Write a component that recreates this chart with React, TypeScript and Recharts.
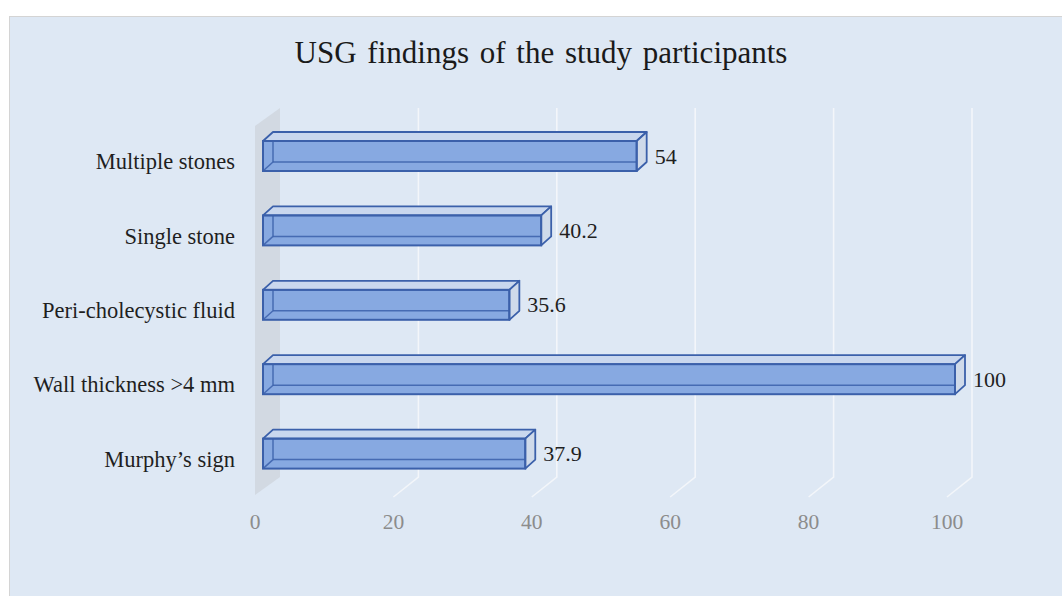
import React from 'react';
import { BarChart, Bar, XAxis, YAxis, CartesianGrid } from 'recharts';

const categories = [
  'Multiple stones',
  'Single stone',
  'Peri-cholecystic fluid',
  'Wall thickness >4 mm',
  'Murphy’s sign',
];
const values = [54, 40.2, 35.6, 100, 37.9];
const xTicks = [0, 20, 40, 60, 80, 100];
const title = 'USG findings of the study participants';

const data = categories.map((c, i) => ({ name: c, value: values[i] }));

const DX = 10;
const DY = 9;
const FONT = '"Liberation Serif", "Times New Roman", serif';
const EDGE = '#3b60aa';

function Box3D(props: any) {
  const { x, y, width, height, payload } = props;
  const w = width;
  const h = height;
  const top = `${x},${y} ${x + DX},${y - DY} ${x + w + DX},${y - DY} ${x + w},${y}`;
  const side = `${x + w},${y} ${x + w + DX},${y - DY} ${x + w + DX},${y + h - DY} ${x + w},${y + h}`;
  return (
    <g>
      <rect x={x} y={y} width={w} height={h} fill="#87a9e1" />
      <line x1={x + DX} y1={y - DY} x2={x + DX} y2={y + h - DY} stroke={EDGE} strokeWidth={1.5} strokeOpacity={0.85} />
      <line x1={x + DX} y1={y + h - DY} x2={x + w + DX} y2={y + h - DY} stroke={EDGE} strokeWidth={1.5} strokeOpacity={0.85} />
      <line x1={x} y1={y + h} x2={x + DX} y2={y + h - DY} stroke={EDGE} strokeWidth={1.5} strokeOpacity={0.85} />
      <polygon points={top} fill="#c9d7ee" stroke={EDGE} strokeWidth={1.8} strokeLinejoin="round" />
      <polygon points={side} fill="#cfdaea" stroke={EDGE} strokeWidth={1.8} strokeLinejoin="round" />
      <rect x={x} y={y} width={w} height={h} fill="none" stroke={EDGE} strokeWidth={2} />
      <text
        x={x + w + DX + 8}
        y={y + h / 2}
        dominantBaseline="central"
        fontSize={22}
        fontFamily={FONT}
        fill="#1f1f1f"
      >
        {payload.value}
      </text>
    </g>
  );
}

const renderGrid = (p: any) => {
  const { x1, y1, y2, index, key } = p;
  const bx = x1 + 17;
  const fx = x1 - 8;
  if (index === 0) {
    return (
      <polygon
        key={key}
        points={`${fx},${y1 + 7} ${bx},${y1 - 11} ${bx},${y2 - 14} ${fx},${y2 + 4}`}
        fill="#d2d9e2"
      />
    );
  }
  return (
    <polyline
      key={key}
      points={`${bx},${y1 - 11} ${bx},${y2 - 14} ${fx},${y2 + 6}`}
      fill="none"
      stroke="#f3f6fa"
      strokeWidth={1.6}
    />
  );
};

const YTick = (props: any) => {
  const { x, y, payload } = props;
  return (
    <text x={x} y={y + 13} textAnchor="end" fontSize={22.5} fontFamily={FONT} fill="#1f1f1f">
      {payload.value}
    </text>
  );
};

const XTick = (props: any) => {
  const { x, y, payload } = props;
  return (
    <text x={x - 8} y={y} textAnchor="middle" fontSize={21.5} fontFamily={FONT} fill="#8c8c8c">
      {payload.value}
    </text>
  );
};

export default function App() {
  return (
    <div style={{ position: 'fixed', left: 0, top: 0, width: 1062, height: 596, background: '#ffffff', overflow: 'hidden' }}>
      <div
        style={{
          position: 'absolute',
          left: 9,
          top: 16,
          width: 1053,
          height: 580,
          background: '#dee8f4',
          borderLeft: '1px solid #d4d4d4',
          borderTop: '1px solid #d4d4d4',
          boxSizing: 'border-box',
        }}
      />
      <svg style={{ position: 'absolute', left: 0, top: 0 }} width={1062} height={100}>
        <text x={541} y={63} textAnchor="middle" fontSize={31} wordSpacing={3} fontFamily={FONT} fill="#1a1a1a">
          {title}
        </text>
      </svg>
      <div style={{ position: 'absolute', left: 0, top: 0 }}>
        <BarChart
          width={1062}
          height={596}
          data={data}
          layout="vertical"
          margin={{ top: 119, right: 107, bottom: 75, left: 0 }}
          barSize={30}
        >
          <CartesianGrid horizontal={false} vertical={renderGrid} />
          <XAxis
            type="number"
            domain={[0, 100]}
            ticks={xTicks}
            interval={0}
            axisLine={false}
            tickLine={false}
            tickSize={0}
            tickMargin={38}
            height={30}
            tick={XTick}
          />
          <YAxis
            type="category"
            dataKey="name"
            width={263}
            interval={0}
            axisLine={false}
            tickLine={false}
            tickSize={0}
            tickMargin={28}
            tick={YTick}
          />
          <Bar dataKey="value" shape={Box3D} isAnimationActive={false} />
        </BarChart>
      </div>
    </div>
  );
}
